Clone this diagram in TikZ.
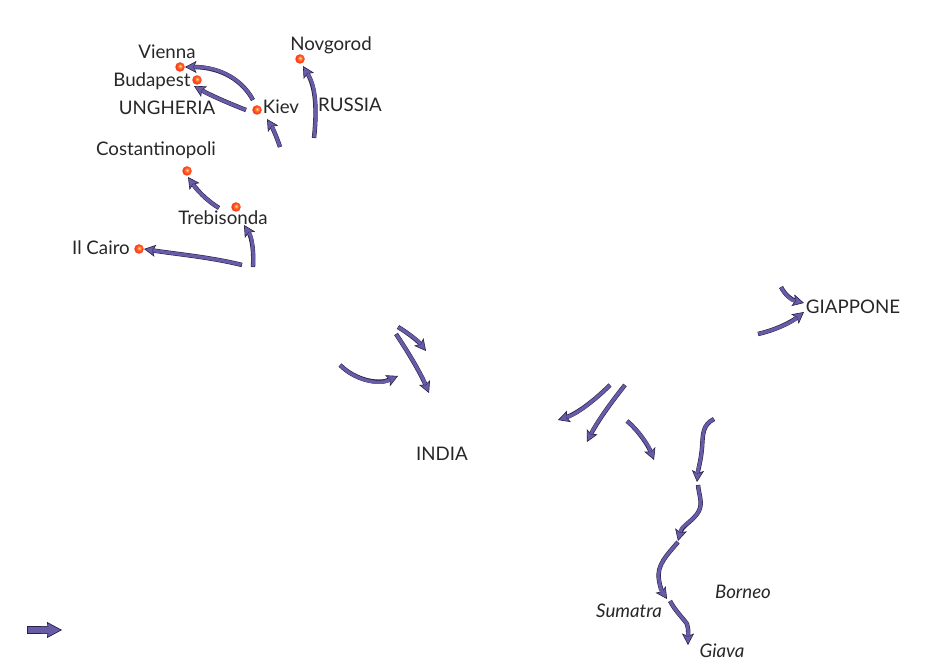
\documentclass[tikz,border=0pt]{standalone}
\usepackage{fontspec}
\setmainfont{Lato}
\usetikzlibrary{arrows.meta}
\definecolor{arrfill}{RGB}{104,92,168}
\definecolor{arrline}{RGB}{38,34,70}
\definecolor{txt}{RGB}{40,38,40}
\pgfdeclareradialshading{cityball}{\pgfpoint{0pt}{6pt}}{
  color(0pt)=(white!75!orange);
  color(9pt)=(orange!75!red!85!white);
  color(20pt)=(red!70!orange!90!white);
  color(30pt)=(red!85!orange!85!white);
  color(50pt)=(red!85!orange!85!white)}
\tikzset{
  lab/.style={font=\fontsize{18.7}{22}\selectfont,text=txt,inner sep=0pt},
  ilab/.style={lab,font=\fontsize{18.7}{22}\selectfont\itshape},
  city/.style={circle,minimum size=9.5pt,inner sep=0pt,shading=cityball},
  arr/.style={draw=arrline,line width=4.4pt,
    -{Stealth[length=11.5pt,width=12pt,inset=2.5pt,fill=arrfill,line width=.6pt]},
    postaction={draw=arrfill,line width=3.3pt,-{Butt Cap[]},shorten >=9pt,shorten <=.5pt}},
  bigarr/.style={draw=arrline,line width=8pt,
    -{Stealth[length=15pt,width=16pt,inset=1pt,fill=arrfill,line width=.7pt]},
    postaction={draw=arrfill,line width=6.6pt,-{Butt Cap[]},shorten >=13pt,shorten <=.7pt}},
}
\begin{document}
\begin{tikzpicture}[x=1pt,y=-1pt]
\useasboundingbox (0,0) rectangle (948,660);
% cities
\node[city] (vienna) at (180,67) {};
\node[city] (budapest) at (197,80) {};
\node[city] (kiev) at (257,110) {};
\node[city] (novgorod) at (300,59) {};
\node[city] (costantinopoli) at (187,171) {};
\node[city] (trebisonda) at (236,207) {};
\node[city] (cairo) at (139,249) {};
% labels
\node[lab] (lvienna) at (167,52) {Vienna};
\node[lab] (lbudapest) at (152,81) {Budapest};
\node[lab] (lungheria) at (167,108) {UNGHERIA};
\node[lab] (lkiev) at (281,107) {Kiev};
\node[lab] (lrussia) at (350,105) {RUSSIA};
\node[lab] (lnovgorod) at (331,45) {Novgorod};
\node[lab] (lcost) at (156,150) {Costantinopoli};
\node[lab] (ltreb) at (223,218) {Trebisonda};
\node[lab] (lcairo) at (101,248) {Il Cairo};
\node[lab] (lgiappone) at (853,307) {GIAPPONE};
\node[lab] (lindia) at (442,454) {INDIA};
\node[ilab] (lsumatra) at (629,611) {Sumatra};
\node[ilab] (lborneo) at (743,592) {Borneo};
\node[ilab] (lgiava) at (722,651) {Giava};
% free ends
\coordinate (a1s) at (253,100); \coordinate (a1e) at (185,67);
\coordinate (a2s) at (246,110); \coordinate (a2e) at (194,86);
\coordinate (a3s) at (280,147); \coordinate (a3e) at (267,119);
\coordinate (a4s) at (314,138); \coordinate (a4e) at (303,66);
\coordinate (a5s) at (219,208); \coordinate (a5e) at (188,177);
\coordinate (a6s) at (253,267); \coordinate (a6e) at (244,225);
\coordinate (a7s) at (242,265); \coordinate (a7e) at (144,249);
\coordinate (a8s) at (340,365); \coordinate (a8e) at (398,376);
\coordinate (a9s) at (398,327); \coordinate (a9e) at (426,351);
\coordinate (a10s) at (396,334); \coordinate (a10e) at (429,393);
\coordinate (a11s) at (610,385); \coordinate (a11e) at (558,420);
\coordinate (a12s) at (625,385); \coordinate (a12e) at (587,442);
\coordinate (a13s) at (627,421); \coordinate (a13e) at (654,460);
\coordinate (a14s) at (714,419); \coordinate (a14e) at (697,482);
\coordinate (a15s) at (698,485); \coordinate (a15e) at (678,541);
\coordinate (a16s) at (678,542); \coordinate (a16e) at (667,599);
\coordinate (a17s) at (670,601); \coordinate (a17e) at (688,645);
\coordinate (a18s) at (781,287); \coordinate (a18e) at (804,303);
\coordinate (a19s) at (758,334); \coordinate (a19e) at (804,312);
\coordinate (ls) at (27,630); \coordinate (le) at (62,630);
% arrows
\draw[arr] (a1s) .. controls (240,76) and (215,67) .. (a1e);
\draw[arr] (a2s) .. controls (228,103) and (210,95) .. (a2e);
\draw[arr] (a3s) .. controls (276,135) and (272,127) .. (a3e);
\draw[arr] (a4s) .. controls (317,110) and (316,88) .. (a4e);
\draw[arr] (a5s) .. controls (206,200) and (197,190) .. (a5e);
\draw[arr] (a6s) .. controls (254,252) and (252,238) .. (a6e);
\draw[arr] (a7s) .. controls (210,257) and (175,254) .. (a7e);
\draw[arr] (a8s) .. controls (355,380) and (378,385) .. (a8e);
\draw[arr] (a9s) .. controls (408,333) and (418,341) .. (a9e);
\draw[arr] (a10s) .. controls (408,352) and (420,372) .. (a10e);
\draw[arr] (a11s) .. controls (593,402) and (576,414) .. (a11e);
\draw[arr] (a12s) .. controls (609,405) and (596,424) .. (a12e);
\draw[arr] (a13s) .. controls (638,430) and (648,445) .. (a13e);
\draw[arr] (a14s) .. controls (702,425) and (703,435) .. (702,448) .. controls (701,460) and (698,470) .. (a14e);
\draw[arr] (a15s) .. controls (699,496) and (704,505) .. (697,514) .. controls (690,523) and (682,526) .. (a15e);
\draw[arr] (a16s) .. controls (668,554) and (656,565) .. (659,580) .. controls (660,588) and (663,593) .. (a16e);
\draw[arr] (a17s) .. controls (676,612) and (683,618) .. (687,624) .. controls (689,630) and (688,638) .. (a17e);
\draw[arr] (a18s) .. controls (785,295) and (792,300) .. (a18e);
\draw[arr] (a19s) .. controls (775,330) and (790,323) .. (a19e);
\draw[bigarr] (ls) -- (le);
\end{tikzpicture}
\end{document}
